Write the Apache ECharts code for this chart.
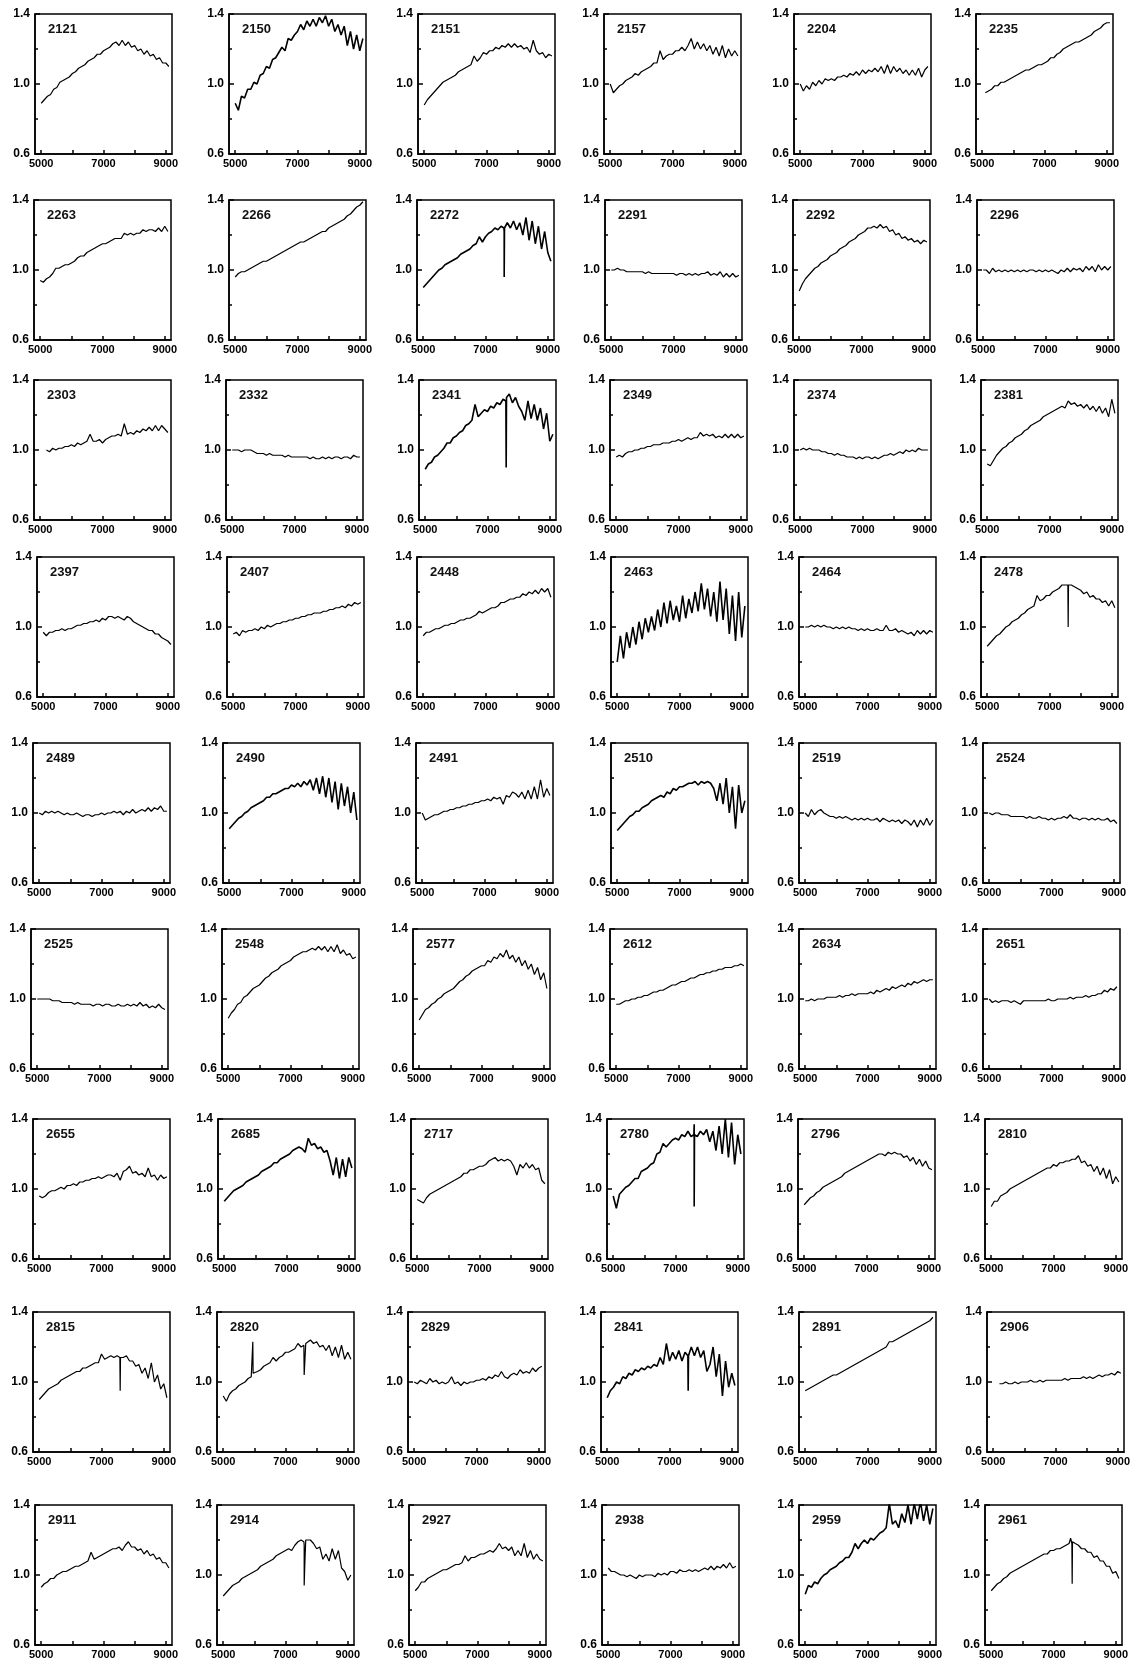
<!DOCTYPE html>
<html lang="en">
<head>
<meta charset="UTF-8">
<title>Spectra 2121 - 2961</title>
<script src="https://cdn.jsdelivr.net/npm/echarts@6/dist/echarts.min.js"></script>
<style>
    html, body { margin: 0; padding: 0; background: #fff; }
    #main { width: 1136px; height: 1671px; }
</style>
</head>
<body>
<div id="main"></div>
<script>
// wavelength grid, Angstrom
var wave = [5000,5100,5200,5300,5400,5500,5600,5700,5800,5900,
            6000,6100,6200,6300,6400,6500,6600,6700,6800,6900,
            7000,7100,7200,7300,7400,7500,7600,7700,7800,7900,
            8000,8100,8200,8300,8400,8500,8600,8700,8800,8900,
            9000,9100];

var ids = ['2121','2150','2151','2157','2204','2235',
           '2263','2266','2272','2291','2292','2296',
           '2303','2332','2341','2349','2374','2381',
           '2397','2407','2448','2463','2464','2478',
           '2489','2490','2491','2510','2519','2524',
           '2525','2548','2577','2612','2634','2651',
           '2655','2685','2717','2780','2796','2810',
           '2815','2820','2829','2841','2891','2906',
           '2911','2914','2927','2938','2959','2961'];

// relative flux, one value per wave step
var s2121 = [0.89,0.91,0.93,0.94,0.97,0.98,1.01,1.02,1.03,1.04, 1.06,1.07,1.09,1.10,1.11,1.13,1.14,1.15,1.17,1.17, 1.19,1.20,1.21,1.23,1.24,1.22,1.25,1.22,1.24,1.21, 1.22,1.19,1.20,1.17,1.19,1.16,1.17,1.14,1.15,1.12, 1.12,1.10];
var s2150 = [0.89,0.85,0.93,0.92,0.97,0.97,1.01,1.00,1.05,1.06, 1.10,1.09,1.14,1.15,1.18,1.21,1.19,1.26,1.25,1.28, 1.30,1.34,1.31,1.36,1.33,1.37,1.33,1.38,1.35,1.39, 1.33,1.37,1.30,1.34,1.28,1.33,1.22,1.30,1.20,1.28, 1.19,1.26];
var s2151 = [0.88,0.91,0.93,0.95,0.97,0.99,1.01,1.02,1.03,1.04, 1.05,1.07,1.08,1.09,1.10,1.11,1.16,1.13,1.15,1.18, 1.17,1.19,1.19,1.21,1.20,1.22,1.21,1.23,1.21,1.23, 1.21,1.22,1.20,1.21,1.18,1.25,1.19,1.17,1.18,1.15, 1.17,1.16];
var s2157 = [1.00,0.95,0.97,0.99,1.00,1.02,1.03,1.04,1.06,1.05, 1.07,1.08,1.09,1.10,1.12,1.12,1.19,1.14,1.16,1.17, 1.17,1.19,1.19,1.21,1.19,1.22,1.26,1.20,1.24,1.20, 1.23,1.19,1.22,1.17,1.21,1.16,1.22,1.15,1.20,1.16, 1.19,1.16];
var s2204 = [1.00,0.96,0.99,0.97,1.01,0.99,1.02,1.00,1.03,1.02, 1.03,1.02,1.04,1.04,1.05,1.04,1.06,1.05,1.07,1.05, 1.08,1.06,1.08,1.07,1.09,1.07,1.10,1.06,1.11,1.06, 1.10,1.07,1.09,1.06,1.08,1.05,1.08,1.05,1.09,1.04, 1.08,1.10];
var s2235 = [null,0.95,0.96,0.97,0.99,0.99,1.01,1.01,1.02,1.03, 1.04,1.05,1.06,1.07,1.08,1.08,1.09,1.10,1.11,1.11, 1.12,1.13,1.15,1.15,1.17,1.18,1.20,1.21,1.22,1.23, 1.24,1.24,1.25,1.26,1.27,1.28,1.30,1.31,1.32,1.34, 1.35,1.35];
var s2263 = [0.94,0.93,0.95,0.96,0.98,1.01,1.01,1.02,1.03,1.03, 1.04,1.05,1.07,1.08,1.08,1.10,1.11,1.12,1.13,1.14, 1.15,1.15,1.16,1.17,1.18,1.18,1.18,1.21,1.20,1.21, 1.20,1.21,1.21,1.23,1.22,1.23,1.23,1.22,1.24,1.22, 1.25,1.22];
var s2266 = [0.96,0.98,0.99,0.99,1.00,1.01,1.02,1.03,1.04,1.05, 1.05,1.06,1.07,1.08,1.09,1.10,1.11,1.12,1.13,1.14, 1.15,1.16,1.16,1.17,1.18,1.19,1.20,1.21,1.22,1.22, 1.24,1.25,1.26,1.27,1.28,1.29,1.31,1.32,1.34,1.36, 1.37,1.39];
var s2272 = [0.90,0.92,0.94,0.96,0.98,1.00,1.01,1.03,1.04,1.05, 1.06,1.07,1.09,1.10,1.11,1.12,1.14,1.15,1.19,1.16, 1.19,1.21,1.22,1.24,1.23,1.25,1.22,1.27,1.24,1.28, 1.23,1.27,1.20,1.30,1.17,1.28,1.15,1.25,1.12,1.22, 1.10,1.05];
var s2291 = [1.00,1.00,1.01,1.00,1.00,0.99,0.99,0.99,0.99,0.99, 0.99,0.98,0.99,0.98,0.98,0.98,0.98,0.98,0.98,0.98, 0.98,0.97,0.98,0.98,0.97,0.98,0.97,0.98,0.97,0.98, 0.98,0.99,0.97,0.98,0.97,0.99,0.96,0.98,0.96,0.98, 0.96,0.97];
var s2292 = [0.88,0.92,0.95,0.97,0.99,1.01,1.02,1.04,1.05,1.06, 1.08,1.09,1.10,1.12,1.13,1.14,1.16,1.17,1.18,1.20, 1.21,1.22,1.24,1.24,1.25,1.24,1.26,1.24,1.25,1.22, 1.23,1.20,1.21,1.18,1.19,1.17,1.18,1.16,1.17,1.15, 1.17,1.16];
var s2296 = [1.00,1.00,0.98,1.01,0.99,1.00,0.99,1.00,0.99,1.00, 0.99,1.00,0.99,1.00,0.99,1.00,1.00,0.99,1.00,0.99, 1.00,0.99,1.00,0.99,0.98,1.00,0.99,1.01,0.99,1.01, 1.00,1.01,0.99,1.02,1.00,1.02,0.99,1.03,1.00,1.02, 1.00,1.02];
var s2303 = [null,null,1.00,0.99,1.01,1.00,1.01,1.01,1.02,1.02, 1.03,1.02,1.04,1.03,1.04,1.05,1.09,1.05,1.05,1.06, 1.04,1.06,1.07,1.08,1.08,1.09,1.08,1.15,1.09,1.10, 1.09,1.11,1.10,1.12,1.11,1.13,1.11,1.14,1.11,1.14, 1.12,1.10];
var s2332 = [1.00,1.00,1.00,0.99,1.00,1.00,1.00,0.99,0.98,0.98, 0.98,0.97,0.98,0.97,0.97,0.97,0.97,0.96,0.97,0.96, 0.96,0.96,0.96,0.96,0.96,0.95,0.96,0.95,0.95,0.96, 0.95,0.96,0.95,0.96,0.96,0.95,0.96,0.96,0.95,0.97, 0.96,0.96];
var s2341 = [0.89,0.92,0.93,0.96,0.97,0.99,1.01,1.04,1.04,1.07, 1.08,1.10,1.11,1.14,1.15,1.17,1.26,1.19,1.21,1.23, 1.22,1.25,1.24,1.27,1.26,1.29,1.28,1.32,1.27,1.30, 1.25,1.22,1.17,1.28,1.18,1.26,1.17,1.24,1.12,1.21, 1.05,1.09];
var s2349 = [0.96,0.97,0.96,0.98,0.99,0.99,1.00,1.00,1.01,1.01, 1.02,1.02,1.03,1.03,1.03,1.04,1.04,1.04,1.05,1.05, 1.06,1.05,1.06,1.07,1.06,1.07,1.07,1.10,1.08,1.09, 1.08,1.09,1.07,1.08,1.07,1.09,1.07,1.09,1.07,1.09, 1.07,1.08];
var s2374 = [1.00,1.01,1.00,1.01,1.00,1.00,1.00,0.99,0.99,0.98, 0.98,0.97,0.98,0.97,0.97,0.96,0.96,0.96,0.95,0.96, 0.95,0.96,0.96,0.95,0.96,0.95,0.96,0.97,0.97,0.98, 0.97,0.98,0.99,0.98,1.00,0.99,1.00,0.99,1.01,1.00, 1.00,1.00];
var s2381 = [0.92,0.91,0.94,0.97,0.99,1.01,1.02,1.04,1.05,1.07, 1.08,1.09,1.11,1.12,1.14,1.15,1.16,1.17,1.19,1.20, 1.21,1.22,1.23,1.24,1.25,1.24,1.28,1.26,1.27,1.25, 1.26,1.24,1.26,1.23,1.25,1.22,1.25,1.21,1.24,1.19, 1.29,1.21];
var s2397 = [0.97,0.95,0.97,0.97,0.98,0.98,0.99,0.98,0.99,0.99, 1.00,1.01,1.01,1.02,1.02,1.03,1.03,1.04,1.03,1.05, 1.04,1.06,1.06,1.05,1.06,1.05,1.04,1.06,1.05,1.03, 1.02,1.01,1.00,0.99,0.98,0.98,0.96,0.96,0.94,0.93, 0.92,0.90];
var s2407 = [0.96,0.97,0.95,0.98,0.97,0.98,0.98,0.99,0.98,1.00, 0.99,1.01,1.00,1.01,1.02,1.02,1.03,1.03,1.04,1.04, 1.05,1.05,1.06,1.06,1.07,1.07,1.08,1.08,1.08,1.09, 1.09,1.10,1.10,1.11,1.11,1.12,1.11,1.13,1.12,1.14, 1.13,1.14];
var s2448 = [0.95,0.97,0.97,0.98,0.99,0.99,1.00,1.01,1.01,1.02, 1.02,1.03,1.04,1.04,1.05,1.05,1.06,1.07,1.09,1.08, 1.09,1.10,1.11,1.11,1.12,1.14,1.14,1.15,1.16,1.16, 1.17,1.17,1.19,1.18,1.20,1.19,1.21,1.19,1.22,1.20, 1.22,1.17];
var s2463 = [0.80,0.95,0.82,0.97,0.88,1.00,0.90,1.03,0.93,1.05, 0.97,1.06,0.98,1.10,1.00,1.14,1.02,1.15,1.04,1.12, 1.03,1.18,1.05,1.16,1.08,1.20,1.09,1.25,1.10,1.22, 1.06,1.20,1.03,1.26,1.04,1.22,0.96,1.18,0.92,1.20, 0.94,1.12];
var s2464 = [1.00,1.00,1.01,1.00,1.01,1.00,1.01,1.00,1.00,0.99, 1.00,0.99,1.00,0.99,1.00,0.99,0.99,0.98,0.99,0.98, 0.99,0.98,0.98,0.99,0.98,0.98,1.01,0.98,0.98,0.99, 0.97,0.98,0.97,0.96,0.97,0.95,0.98,0.96,0.98,0.96, 0.98,0.97];
var s2478 = [0.89,0.91,0.93,0.95,0.96,0.98,1.00,1.01,1.03,1.04, 1.05,1.07,1.08,1.10,1.11,1.12,1.18,1.15,1.16,1.18, 1.18,1.20,1.21,1.22,1.24,1.24,1.23,1.24,1.23,1.22, 1.21,1.19,1.20,1.17,1.18,1.16,1.16,1.14,1.15,1.12, 1.15,1.11];
var s2489 = [1.00,0.99,1.01,1.00,1.01,1.00,1.01,1.00,0.99,1.00, 0.99,0.99,1.00,0.99,0.98,0.99,0.99,0.98,0.99,0.99, 1.00,0.99,1.00,1.00,1.01,1.00,1.01,0.99,1.01,1.00, 1.02,1.00,1.01,1.02,1.01,1.03,1.01,1.03,1.02,1.04, 1.01,1.01];
var s2490 = [0.91,0.93,0.95,0.97,0.98,1.00,1.01,1.03,1.04,1.05, 1.06,1.07,1.09,1.09,1.11,1.11,1.12,1.13,1.14,1.14, 1.16,1.15,1.17,1.15,1.18,1.16,1.19,1.13,1.20,1.11, 1.21,1.09,1.20,1.06,1.18,1.02,1.17,1.04,1.15,1.00, 1.12,0.96];
var s2491 = [1.00,0.96,0.97,0.98,0.99,0.99,1.00,1.01,1.01,1.02, 1.02,1.03,1.03,1.04,1.04,1.05,1.05,1.06,1.06,1.07, 1.07,1.08,1.07,1.09,1.08,1.09,1.05,1.10,1.09,1.12, 1.11,1.09,1.12,1.08,1.13,1.08,1.15,1.08,1.19,1.09, 1.14,1.10];
var s2510 = [0.90,0.92,0.94,0.96,0.98,0.99,1.01,1.01,1.03,1.04, 1.05,1.07,1.08,1.09,1.10,1.09,1.12,1.11,1.14,1.13, 1.15,1.15,1.16,1.17,1.17,1.18,1.16,1.18,1.17,1.18, 1.17,1.14,1.07,1.17,1.05,1.20,1.00,1.15,0.91,1.16, 1.00,1.07];
var s2519 = [1.00,0.98,1.02,0.99,1.01,1.02,1.00,0.99,0.98,0.98, 0.97,0.98,0.97,0.98,0.97,0.96,0.97,0.96,0.97,0.96, 0.97,0.96,0.96,0.97,0.95,0.97,0.96,0.95,0.96,0.95, 0.96,0.94,0.96,0.95,0.93,0.96,0.92,0.96,0.93,0.97, 0.93,0.96];
var s2524 = [1.00,0.99,1.00,1.00,0.99,0.99,0.99,0.98,0.98,0.98, 0.98,0.98,0.97,0.98,0.97,0.97,0.98,0.97,0.97,0.96, 0.97,0.96,0.97,0.97,0.98,0.97,0.99,0.97,0.97,0.96, 0.97,0.97,0.96,0.97,0.96,0.97,0.96,0.96,0.97,0.95, 0.96,0.94];
var s2525 = [1.00,1.00,1.00,1.00,1.00,0.99,0.99,0.99,0.98,0.98, 0.98,0.98,0.97,0.98,0.97,0.97,0.97,0.97,0.96,0.97, 0.97,0.96,0.97,0.97,0.96,0.96,0.97,0.96,0.96,0.97, 0.96,0.97,0.96,0.98,0.96,0.97,0.95,0.96,0.95,0.97, 0.95,0.94];
var s2548 = [0.89,0.92,0.94,0.97,0.98,1.01,1.02,1.04,1.06,1.07, 1.08,1.10,1.12,1.13,1.15,1.16,1.17,1.19,1.20,1.21, 1.22,1.24,1.25,1.26,1.27,1.27,1.28,1.29,1.28,1.30, 1.28,1.30,1.27,1.30,1.27,1.31,1.26,1.28,1.25,1.26, 1.23,1.24];
var s2577 = [0.88,0.91,0.94,0.95,0.97,0.98,1.00,1.01,1.03,1.04, 1.05,1.06,1.08,1.10,1.11,1.13,1.14,1.16,1.17,1.18, 1.19,1.19,1.22,1.21,1.24,1.23,1.26,1.24,1.28,1.23, 1.25,1.21,1.24,1.19,1.22,1.17,1.20,1.14,1.18,1.11, 1.15,1.06];
var s2612 = [0.97,0.97,0.98,0.99,0.99,1.00,1.00,1.01,1.01,1.02, 1.02,1.03,1.04,1.04,1.05,1.05,1.06,1.07,1.08,1.08, 1.09,1.10,1.10,1.11,1.12,1.12,1.13,1.14,1.14,1.15, 1.15,1.16,1.16,1.17,1.17,1.18,1.18,1.18,1.19,1.19, 1.20,1.19];
var s2634 = [0.99,0.99,1.00,0.99,1.00,1.00,1.00,1.01,1.01,1.01, 1.01,1.02,1.01,1.02,1.02,1.03,1.02,1.03,1.03,1.03, 1.03,1.04,1.03,1.05,1.04,1.05,1.06,1.05,1.07,1.06, 1.07,1.08,1.07,1.09,1.08,1.10,1.09,1.10,1.11,1.10, 1.11,1.11];
var s2651 = [1.00,0.98,0.99,0.98,0.99,0.99,0.99,0.98,0.99,0.98, 0.97,0.99,0.99,0.99,0.99,0.99,0.99,0.99,0.99,1.00, 0.99,0.99,1.00,1.00,1.00,1.00,1.01,1.00,1.01,1.01, 1.01,1.02,1.01,1.02,1.02,1.03,1.03,1.05,1.04,1.06, 1.05,1.07];
var s2655 = [0.96,0.95,0.96,0.98,0.99,0.99,1.00,1.01,1.00,1.02, 1.02,1.03,1.02,1.04,1.04,1.05,1.05,1.06,1.06,1.07, 1.06,1.07,1.08,1.08,1.07,1.09,1.05,1.10,1.11,1.13, 1.09,1.10,1.08,1.09,1.07,1.12,1.07,1.08,1.05,1.08, 1.06,1.07];
var s2685 = [0.93,0.95,0.97,0.99,1.00,1.01,1.02,1.04,1.05,1.06, 1.07,1.08,1.10,1.11,1.12,1.13,1.15,1.15,1.17,1.18, 1.19,1.20,1.22,1.23,1.24,1.23,1.21,1.29,1.25,1.26, 1.23,1.24,1.21,1.22,1.16,1.08,1.18,1.06,1.17,1.07, 1.18,1.12];
var s2717 = [0.94,0.93,0.92,0.95,0.97,0.98,0.99,1.00,1.01,1.02, 1.03,1.04,1.05,1.06,1.07,1.09,1.09,1.11,1.11,1.12, 1.13,1.13,1.14,1.16,1.17,1.18,1.16,1.17,1.16,1.17, 1.16,1.13,1.08,1.14,1.12,1.15,1.12,1.14,1.11,1.12, 1.05,1.03];
var s2780 = [0.96,0.89,0.97,0.99,1.01,1.02,1.04,1.06,1.06,1.10, 1.11,1.12,1.14,1.15,1.20,1.21,1.26,1.24,1.26,1.28, 1.29,1.28,1.31,1.30,1.33,1.30,1.37,1.30,1.33,1.31, 1.34,1.27,1.33,1.22,1.36,1.20,1.40,1.18,1.38,1.14, 1.31,1.20];
var s2796 = [0.91,0.93,0.95,0.96,0.98,0.99,1.01,1.02,1.03,1.04, 1.05,1.06,1.07,1.09,1.10,1.11,1.12,1.13,1.14,1.15, 1.16,1.17,1.18,1.19,1.20,1.20,1.19,1.21,1.20,1.21, 1.20,1.20,1.18,1.19,1.16,1.18,1.14,1.17,1.13,1.16, 1.12,1.11];
var s2810 = [0.90,0.93,0.93,0.96,0.97,0.98,1.00,1.01,1.02,1.03, 1.04,1.05,1.06,1.07,1.08,1.09,1.10,1.11,1.12,1.12, 1.14,1.13,1.15,1.15,1.16,1.16,1.17,1.17,1.19,1.15, 1.16,1.13,1.14,1.10,1.13,1.08,1.12,1.06,1.11,1.03, 1.07,1.04];
var s2815 = [0.90,0.92,0.94,0.96,0.97,0.98,0.99,1.01,1.02,1.03, 1.04,1.05,1.06,1.06,1.08,1.08,1.09,1.10,1.11,1.11, 1.16,1.13,1.14,1.15,1.14,1.15,1.13,1.14,1.15,1.12, 1.12,1.09,1.10,1.05,1.08,1.02,1.11,1.00,1.04,0.96, 0.99,0.91];
var s2820 = [0.92,0.89,0.93,0.95,0.96,0.98,0.99,1.00,1.02,1.03, 1.05,1.06,1.07,1.09,1.10,1.11,1.14,1.12,1.14,1.15, 1.17,1.17,1.18,1.19,1.22,1.20,1.20,1.21,1.24,1.22, 1.23,1.20,1.21,1.18,1.21,1.15,1.20,1.14,1.21,1.13, 1.17,1.13];
var s2829 = [1.00,0.99,1.01,1.00,0.99,1.02,1.00,1.01,0.99,1.00, 0.99,1.00,1.03,0.99,1.00,0.98,1.00,0.99,1.00,1.00, 1.01,1.01,1.02,1.01,1.03,1.02,1.04,1.03,1.06,1.03, 1.02,1.04,1.05,1.04,1.07,1.05,1.06,1.05,1.08,1.06, 1.08,1.09];
var s2841 = [0.91,0.95,0.97,1.00,0.99,1.03,1.02,1.05,1.04,1.07, 1.06,1.08,1.07,1.09,1.08,1.10,1.09,1.14,1.10,1.22, 1.12,1.17,1.13,1.18,1.12,1.17,1.14,1.20,1.15,1.20, 1.14,1.18,1.06,1.10,1.20,1.03,1.16,0.92,1.12,0.97, 1.05,0.98];
var s2891 = [0.95,0.96,0.97,0.98,0.99,1.00,1.01,1.02,1.03,1.04, 1.04,1.05,1.06,1.07,1.08,1.09,1.10,1.11,1.12,1.13, 1.14,1.15,1.16,1.17,1.18,1.19,1.20,1.23,1.23,1.24, 1.25,1.26,1.27,1.28,1.29,1.30,1.31,1.32,1.33,1.34, 1.35,1.37];
var s2906 = [null,null,0.99,0.99,1.00,0.99,0.99,1.00,0.99,1.00, 1.00,1.00,1.01,1.00,1.00,1.01,1.00,1.01,1.01,1.01, 1.01,1.01,1.01,1.02,1.01,1.02,1.02,1.02,1.02,1.03, 1.02,1.03,1.02,1.03,1.04,1.03,1.04,1.04,1.05,1.04, 1.06,1.05];
var s2911 = [0.93,0.95,0.96,0.98,0.98,1.00,1.01,1.02,1.02,1.03, 1.04,1.05,1.05,1.06,1.07,1.08,1.13,1.09,1.10,1.11, 1.12,1.13,1.14,1.15,1.15,1.16,1.14,1.17,1.19,1.16, 1.16,1.14,1.15,1.12,1.14,1.11,1.12,1.09,1.10,1.07, 1.07,1.04];
var s2914 = [0.88,0.90,0.92,0.94,0.95,0.96,0.98,0.99,1.00,1.01, 1.02,1.03,1.05,1.06,1.07,1.08,1.09,1.11,1.12,1.13, 1.14,1.15,1.14,1.17,1.19,1.20,1.17,1.21,1.20,1.18, 1.15,1.16,1.09,1.12,1.08,1.15,1.09,1.14,1.04,1.02, 0.97,1.00];
var s2927 = [0.91,0.93,0.96,0.96,0.98,0.99,1.00,1.01,1.02,1.03, 1.03,1.04,1.05,1.06,1.06,1.07,1.11,1.08,1.10,1.10, 1.11,1.12,1.12,1.13,1.14,1.13,1.15,1.18,1.15,1.16, 1.14,1.16,1.11,1.14,1.11,1.18,1.10,1.14,1.09,1.12, 1.09,1.08];
var s2938 = [1.04,1.02,1.02,1.01,1.00,1.00,0.99,1.00,0.99,0.98, 1.00,0.99,1.00,1.00,1.00,0.99,1.01,1.00,1.01,1.00, 1.02,1.02,1.01,1.03,1.02,1.02,1.03,1.02,1.03,1.02, 1.03,1.04,1.03,1.05,1.03,1.05,1.04,1.06,1.04,1.07, 1.04,1.05];
var s2959 = [0.89,0.94,0.93,0.96,0.95,0.98,1.00,1.01,1.03,1.04, 1.05,1.07,1.08,1.10,1.10,1.13,1.18,1.15,1.18,1.20, 1.18,1.21,1.20,1.22,1.24,1.25,1.27,1.41,1.29,1.31, 1.27,1.35,1.30,1.40,1.29,1.41,1.32,1.42,1.31,1.40, 1.29,1.38];
var s2961 = [0.91,0.93,0.95,0.96,0.98,0.99,1.01,1.02,1.03,1.04, 1.05,1.06,1.07,1.08,1.09,1.10,1.11,1.12,1.12,1.14, 1.14,1.15,1.15,1.16,1.17,1.18,1.17,1.18,1.17,1.15, 1.15,1.13,1.13,1.10,1.11,1.08,1.08,1.05,1.05,1.01, 1.02,0.98];

var spectra = [s2121, s2150, s2151, s2157, s2204, s2235,
               s2263, s2266, s2272, s2291, s2292, s2296,
               s2303, s2332, s2341, s2349, s2374, s2381,
               s2397, s2407, s2448, s2463, s2464, s2478,
               s2489, s2490, s2491, s2510, s2519, s2524,
               s2525, s2548, s2577, s2612, s2634, s2651,
               s2655, s2685, s2717, s2780, s2796, s2810,
               s2815, s2820, s2829, s2841, s2891, s2906,
               s2911, s2914, s2927, s2938, s2959, s2961];

// narrow features (telluric A band near 7600 etc), [wavelength, flux]
var f2272 = [[7590,1.24],[7600,0.96],[7610,1.24]];
var f2341 = [[7590,1.28],[7600,0.90],[7610,1.30]];
var f2478 = [[7590,1.24],[7600,1.00],[7610,1.24]];
var f2780 = [[7590,1.31],[7600,0.90],[7610,1.31]];
var f2815 = [[7590,1.14],[7600,0.95],[7610,1.14]];
var f2820 = [[5940,1.04],[5950,1.23],[5960,1.05],[7590,1.21],[7600,1.04],[7640,1.04],[7650,1.22]];
var f2841 = [[7590,1.15],[7600,0.95],[7610,1.15]];
var f2914 = [[7590,1.19],[7600,0.94],[7620,1.06],[7650,1.20]];
var f2961 = [[7540,1.18],[7550,1.21],[7590,1.18],[7600,0.95],[7610,1.19]];
var sharp = {'2272': f2272, '2341': f2341, '2478': f2478, '2780': f2780, '2815': f2815,
             '2820': f2820, '2841': f2841, '2914': f2914, '2961': f2961};

var xTickLabels = [5000, 7000, 9000];
var xTicks = [5000, 6000, 7000, 8000, 9000];

// panel frames in page pixels (scanned figure, columns drift a bit per row)
var rowTop = [14, 200, 380, 557, 743, 929, 1119, 1312, 1505];
var colLeft = [
    [35, 229, 418, 604, 794, 976],
    [34, 229, 417, 605, 793, 977],
    [34, 226, 419, 610, 794, 981],
    [37, 227, 417, 611, 799, 981],
    [33, 223, 416, 611, 799, 983],
    [31, 222, 413, 610, 799, 983],
    [33, 218, 411, 607, 798, 985],
    [33, 217, 408, 601, 799, 987],
    [35, 217, 409, 602, 799, 985]
];
var boxW = 137, boxH = 140;
// the noisiest traces print as a heavier band in the figure
var heavy = ['2150','2272','2341','2463','2490','2510','2685','2780','2841','2959'];

var FONT = 'Liberation Sans, Arial, sans-serif';
function ink(w) { return {color: '#000', width: w}; }

function buildOption(plainLabels) {
    var grids = [], xAxes = [], yAxes = [], series = [], titles = [];
    for (var i = 0; i < ids.length; i++) {
        var r = Math.floor(i / 6), c = i % 6;
        var left = colLeft[r][c], top = rowTop[r];

        grids.push({left: left, top: top, width: boxW, height: boxH,
                    show: true, borderColor: '#000', borderWidth: 1.5});

        var xLabel = {customValues: xTickLabels.slice(), margin: 4, fontSize: 11, fontWeight: 'bold',
                      color: '#000', fontFamily: FONT};
        if (plainLabels) {
            xLabel.formatter = function (v) { return '' + Math.round(+v); };
        }
        xAxes.push({
            type: 'value', gridIndex: i, min: 4800, max: 9200,
            axisLine: {show: true, onZero: false, lineStyle: ink(1.5)},
            splitLine: {show: false},
            axisTick: {show: true, inside: true, length: 4, customValues: xTicks.slice(), lineStyle: ink(1.5)},
            axisLabel: xLabel
        });

        yAxes.push({
            type: 'value', gridIndex: i, min: 0.6, max: 1.4, interval: 0.4,
            axisLine: {show: true, onZero: false, lineStyle: ink(1.5)},
            splitLine: {show: false},
            axisTick: {show: true, inside: true, length: 5, lineStyle: ink(1.5)},
            minorTick: {show: true, splitNumber: 2, length: 3, lineStyle: ink(1.5)},
            axisLabel: {margin: 5, fontSize: 12, fontWeight: 'bold', color: '#000', fontFamily: FONT,
                        formatter: function (v) { return (+v).toFixed(1); }}
        });

        var vals = spectra[i];
        var pts = [];
        for (var k = 0; k < wave.length; k++) {
            if (vals[k] != null) pts.push([wave[k], vals[k]]);
        }
        var extra = sharp[ids[i]];
        if (extra) {
            for (var e = 0; e < extra.length; e++) pts.push([extra[e][0], extra[e][1]]);
            pts.sort(function (a, b) { return a[0] - b[0]; });
        }

        series.push({
            name: ids[i], type: 'line', xAxisIndex: i, yAxisIndex: i,
            data: pts, showSymbol: false, symbol: 'none', silent: true,
            lineStyle: {color: '#000', width: heavy.indexOf(ids[i]) >= 0 ? 1.6 : 1.2}
        });

        titles.push({
            text: ids[i], left: left + 13, top: top + 9, padding: 0,
            textStyle: {fontSize: 13, fontWeight: 'bold', color: '#111', fontFamily: FONT}
        });
    }
    return {
        animation: false,
        backgroundColor: '#fff',
        title: titles,
        grid: grids,
        xAxis: xAxes,
        yAxis: yAxes,
        series: series
    };
}

// the first pass over 54 grids sometimes overflows the stack; a fresh instance then draws fine
var dom = document.getElementById('main');
var chart = null;
var tries = [true, true, true, false];
for (var t = 0; t < tries.length; t++) {
    try {
        if (chart) chart.dispose();
        chart = echarts.init(dom);
        chart.setOption(buildOption(tries[t]));
        break;
    } catch (err) {
        console.log('setOption attempt ' + t + ' failed: ' + err.message);
    }
}
</script>
</body>
</html>
